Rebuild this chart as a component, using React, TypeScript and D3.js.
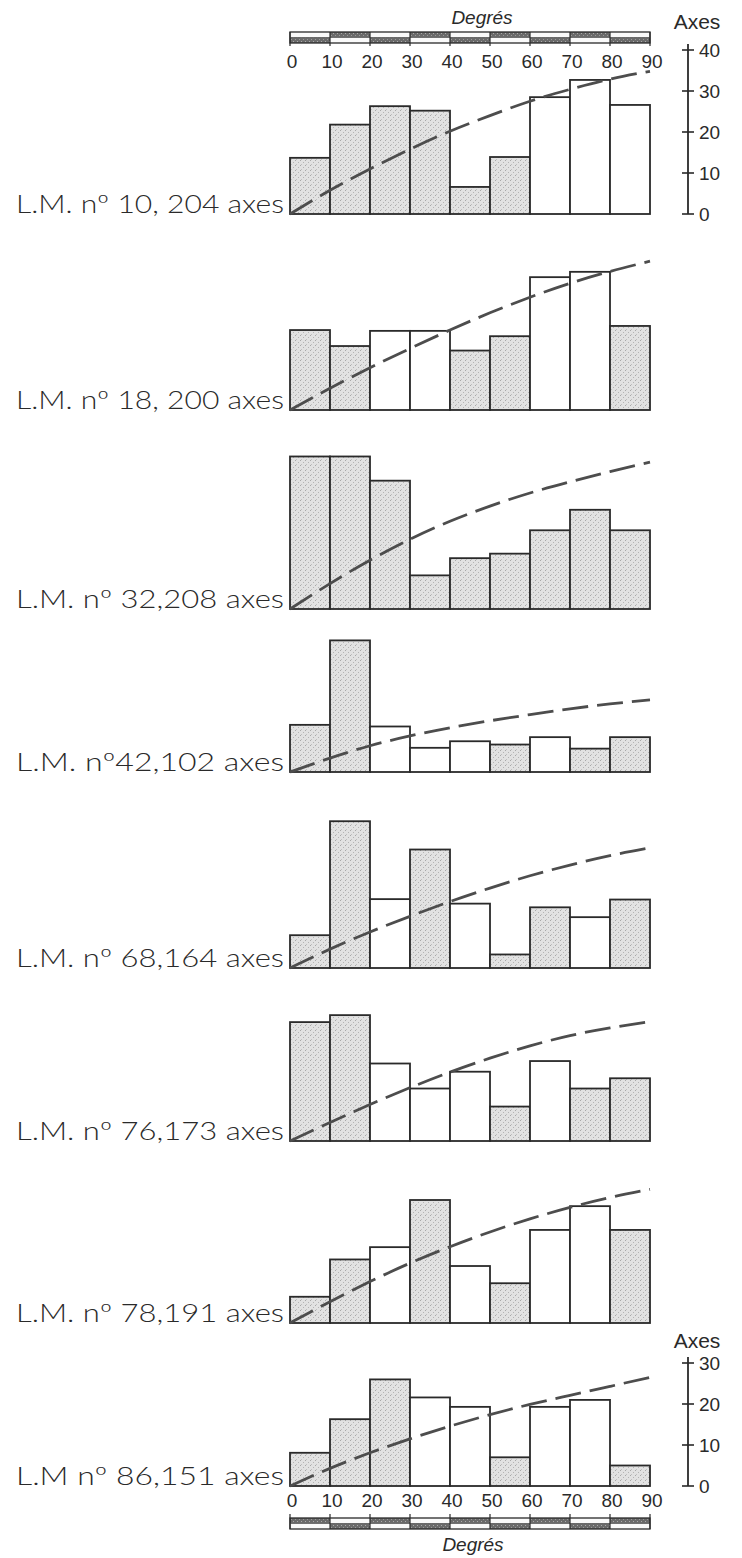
import React from "react";
import * as d3 from "d3";

// ---------- data ----------
const DEGREE_EDGES = [0, 10, 20, 30, 40, 50, 60, 70, 80, 90];
const DEGREE_TICK_LABELS = ["0", "10", "20", "30", "40", "50", "60", "70", "80", "90"];
const AXIS_TICKS_TOP = [0, 10, 20, 30, 40];
const AXIS_TICKS_BOTTOM = [0, 10, 20, 30];

const PANEL_LABELS = [
  "L.M.  nº 10, 204 axes",
  "L.M.  nº 18, 200 axes",
  "L.M.  nº 32,208 axes",
  "L.M.  nº42,102 axes",
  "L.M.  nº 68,164 axes",
  "L.M.  nº 76,173 axes",
  "L.M.  nº 78,191 axes",
  "L.M  nº 86,151  axes",
];

const COUNTS_LM10 = [13.7, 21.8, 26.3, 25.2, 6.6, 13.9, 28.5, 32.7, 26.6];
const COUNTS_LM18 = [19.5, 15.6, 19.3, 19.3, 14.5, 18.0, 32.4, 33.7, 20.5];
const COUNTS_LM32 = [37.2, 37.2, 31.3, 8.2, 12.4, 13.5, 19.2, 24.2, 19.2];
const COUNTS_LM42 = [11.5, 32.1, 11.1, 5.9, 7.5, 6.7, 8.5, 5.7, 8.5];
const COUNTS_LM68 = [8.0, 35.8, 16.8, 28.9, 15.7, 3.3, 14.8, 12.4, 16.7];
const COUNTS_LM76 = [29.0, 30.7, 18.9, 12.8, 16.9, 8.4, 19.5, 12.8, 15.3];
const COUNTS_LM78 = [6.4, 15.5, 18.5, 30.0, 13.9, 9.7, 22.7, 28.5, 22.7];
const COUNTS_LM86 = [8.1, 16.3, 26.0, 21.6, 19.3, 7.0, 19.3, 21.0, 5.0];

const SHADED_LM10 = [1, 1, 1, 1, 1, 1, 0, 0, 0];
const SHADED_LM18 = [1, 1, 0, 0, 1, 1, 0, 0, 1];
const SHADED_LM32 = [1, 1, 1, 1, 1, 1, 1, 1, 1];
const SHADED_LM42 = [1, 1, 0, 0, 0, 1, 0, 1, 1];
const SHADED_LM68 = [1, 1, 0, 1, 0, 1, 1, 0, 1];
const SHADED_LM76 = [1, 1, 0, 0, 0, 1, 0, 1, 1];
const SHADED_LM78 = [1, 1, 0, 1, 0, 1, 0, 0, 1];
const SHADED_LM86 = [1, 1, 1, 0, 0, 1, 0, 0, 1];

// expected (random) curve read at 0,10,...,90 degrees
const CURVE_LM10 = [0, 5.8, 11.0, 15.8, 20.2, 24.0, 27.5, 30.4, 32.9, 34.8];
const CURVE_LM18 = [0, 5.3, 10.3, 15.0, 19.5, 23.7, 27.5, 30.9, 33.8, 36.3];
const CURVE_LM32 = [0, 6.2, 11.9, 17.0, 21.4, 25.1, 28.3, 31.0, 33.5, 35.8];
const CURVE_LM42 = [0, 3.4, 6.4, 8.8, 10.8, 12.5, 14.0, 15.4, 16.6, 17.6];
const CURVE_LM68 = [0, 4.6, 8.8, 12.6, 16.2, 19.5, 22.5, 25.1, 27.4, 29.3];
const CURVE_LM76 = [0, 4.5, 8.9, 13.0, 16.8, 20.2, 23.2, 25.7, 27.6, 29.1];
const CURVE_LM78 = [0, 5.2, 10.1, 14.6, 18.6, 22.2, 25.4, 28.2, 30.6, 32.6];
const CURVE_LM86 = [0, 4.3, 8.1, 11.5, 14.6, 17.4, 19.9, 22.1, 24.3, 26.5];

const COUNTS = [COUNTS_LM10, COUNTS_LM18, COUNTS_LM32, COUNTS_LM42, COUNTS_LM68, COUNTS_LM76, COUNTS_LM78, COUNTS_LM86];
const SHADED = [SHADED_LM10, SHADED_LM18, SHADED_LM32, SHADED_LM42, SHADED_LM68, SHADED_LM76, SHADED_LM78, SHADED_LM86];
const CURVES = [CURVE_LM10, CURVE_LM18, CURVE_LM32, CURVE_LM42, CURVE_LM68, CURVE_LM76, CURVE_LM78, CURVE_LM86];

// ---------- layout ----------
const W = 742;
const H = 1558;
const X0 = 290;
const X1 = 650;
const PX_PER_UNIT = 4.1;
const PANEL_BASE = [214, 410, 609, 772, 968, 1141, 1323, 1486];
const AXIS_X = 688;

const INK = "#2a2a2a";
const FONT = "'Liberation Sans', Arial, sans-serif";
const LABEL_FONT = "Lato, 'Liberation Sans', sans-serif";

const x = d3.scaleLinear().domain([0, 90]).range([X0, X1]);

function yFor(base: number) {
  return d3.scaleLinear().domain([0, 40]).range([base, base - 40 * PX_PER_UNIT]);
}

function ScaleBar({ y, topDarkEven }: { y: number; topDarkEven: boolean }) {
  const h = 11;
  const half = h / 2;
  return (
    <g>
      {DEGREE_EDGES.slice(0, -1).map((d, i) => {
        const xa = x(d);
        const xb = x(d + 10);
        const topDark = (i % 2 === 0) === topDarkEven;
        return (
          <g key={i}>
            <rect x={xa} y={y} width={xb - xa} height={half} fill={topDark ? "url(#darkstip)" : "#fafafa"} />
            <rect x={xa} y={y + half} width={xb - xa} height={half} fill={topDark ? "#fafafa" : "url(#darkstip)"} />
          </g>
        );
      })}
      <rect x={X0} y={y} width={X1 - X0} height={h} fill="none" stroke={INK} strokeWidth={1.3} />
      <line x1={X0} x2={X1} y1={y + half} y2={y + half} stroke="#555" strokeWidth={0.8} />
      {DEGREE_EDGES.map((d) => (
        <line key={d} x1={x(d)} x2={x(d)} y1={topDarkEven ? y - 4 : y} y2={topDarkEven ? y + h : y + h + 3} stroke={INK} strokeWidth={1.2} />
      ))}
    </g>
  );
}

function RightAxis({ base, ticks, titleY }: { base: number; ticks: number[]; titleY: number }) {
  const y = yFor(base);
  const maxT = ticks[ticks.length - 1];
  return (
    <g>
      <text x={697} y={titleY} fontFamily={FONT} fontSize={21} fill={INK} textAnchor="middle">Axes</text>
      <line x1={AXIS_X} x2={AXIS_X} y1={y(maxT) - 6} y2={y(0)} stroke={INK} strokeWidth={1.8} />
      {ticks.map((t) => (
        <g key={t}>
          <line x1={AXIS_X - 6} x2={AXIS_X + 6} y1={y(t)} y2={y(t)} stroke={INK} strokeWidth={1.6} />
          <text x={699} y={y(t)} dy="0.36em" fontFamily={FONT} fontSize={19} fill={INK}>{String(t)}</text>
        </g>
      ))}
    </g>
  );
}

function Panel({ idx }: { idx: number }) {
  const base = PANEL_BASE[idx];
  const y = yFor(base);
  const counts = COUNTS[idx];
  const shaded = SHADED[idx];
  const curve = CURVES[idx];
  const line = d3
    .line<number>()
    .x((_, i) => x(DEGREE_EDGES[i]))
    .y((v) => y(v))
    .curve(d3.curveNatural);
  return (
    <g>
      {counts.map((c, i) => (
        <rect
          key={i}
          x={x(DEGREE_EDGES[i])}
          y={y(c)}
          width={x(DEGREE_EDGES[i] + 10) - x(DEGREE_EDGES[i])}
          height={y(0) - y(c)}
          fill={shaded[i] ? "url(#stip)" : "#ffffff"}
          stroke={INK}
          strokeWidth={1.8}
        />
      ))}
      <path d={line(curve) || ""} fill="none" stroke="#4d4d4d" strokeWidth={2.8} strokeDasharray="26 9" />
      <text
        x={284}
        y={base - 1}
        fontFamily={LABEL_FONT}
        fontWeight={300}
        fontSize={25}
        fill={INK}
        textAnchor="end"
        textLength={268}
        lengthAdjust="spacingAndGlyphs"
      >
        {PANEL_LABELS[idx]}
      </text>
    </g>
  );
}

export default function App() {
  return (
    <svg
      width={W}
      height={H}
      viewBox={`0 0 ${W} ${H}`}
      style={{ position: "absolute", left: 0, top: 0, background: "#fff" }}
    >
      <defs>
        <pattern id="stip" width="5" height="5" patternUnits="userSpaceOnUse">
          <rect width="5" height="5" fill="#e2e2e2" />
          <rect x="0" y="0" width="1" height="1" fill="#a8a8a8" />
          <rect x="3" y="2" width="1" height="1" fill="#b4b4b4" />
          <rect x="1" y="4" width="1" height="1" fill="#c0c0c0" />
        </pattern>
        <pattern id="darkstip" width="4" height="4" patternUnits="userSpaceOnUse">
          <rect width="4" height="4" fill="#6a6a6a" />
          <rect x="1" y="1" width="1" height="1" fill="#aaa" />
          <rect x="3" y="3" width="1" height="1" fill="#999" />
        </pattern>
      </defs>
      <rect width={W} height={H} fill="#fff" />

      {/* top degree scale */}
      <text x={482} y={24} fontFamily={FONT} fontSize={19} fontStyle="italic" fill={INK} textAnchor="middle">Degrés</text>
      <ScaleBar y={32} topDarkEven={false} />
      {DEGREE_EDGES.map((d, i) => (
        <text key={d} x={x(d) + 2} y={68} fontFamily={FONT} fontSize={19} fill={INK} textAnchor="middle">{DEGREE_TICK_LABELS[i]}</text>
      ))}

      {PANEL_BASE.map((_, i) => (
        <Panel key={i} idx={i} />
      ))}

      <RightAxis base={PANEL_BASE[0]} ticks={AXIS_TICKS_TOP} titleY={29} />
      <RightAxis base={PANEL_BASE[7]} ticks={AXIS_TICKS_BOTTOM} titleY={1348} />

      {/* bottom degree scale */}
      {DEGREE_EDGES.map((d, i) => (
        <text key={d} x={x(d) + 2} y={1507} fontFamily={FONT} fontSize={19} fill={INK} textAnchor="middle">{DEGREE_TICK_LABELS[i]}</text>
      ))}
      <ScaleBar y={1518} topDarkEven={true} />
      <text x={473} y={1551} fontFamily={FONT} fontSize={19} fontStyle="italic" fill={INK} textAnchor="middle">Degrés</text>
    </svg>
  );
}
